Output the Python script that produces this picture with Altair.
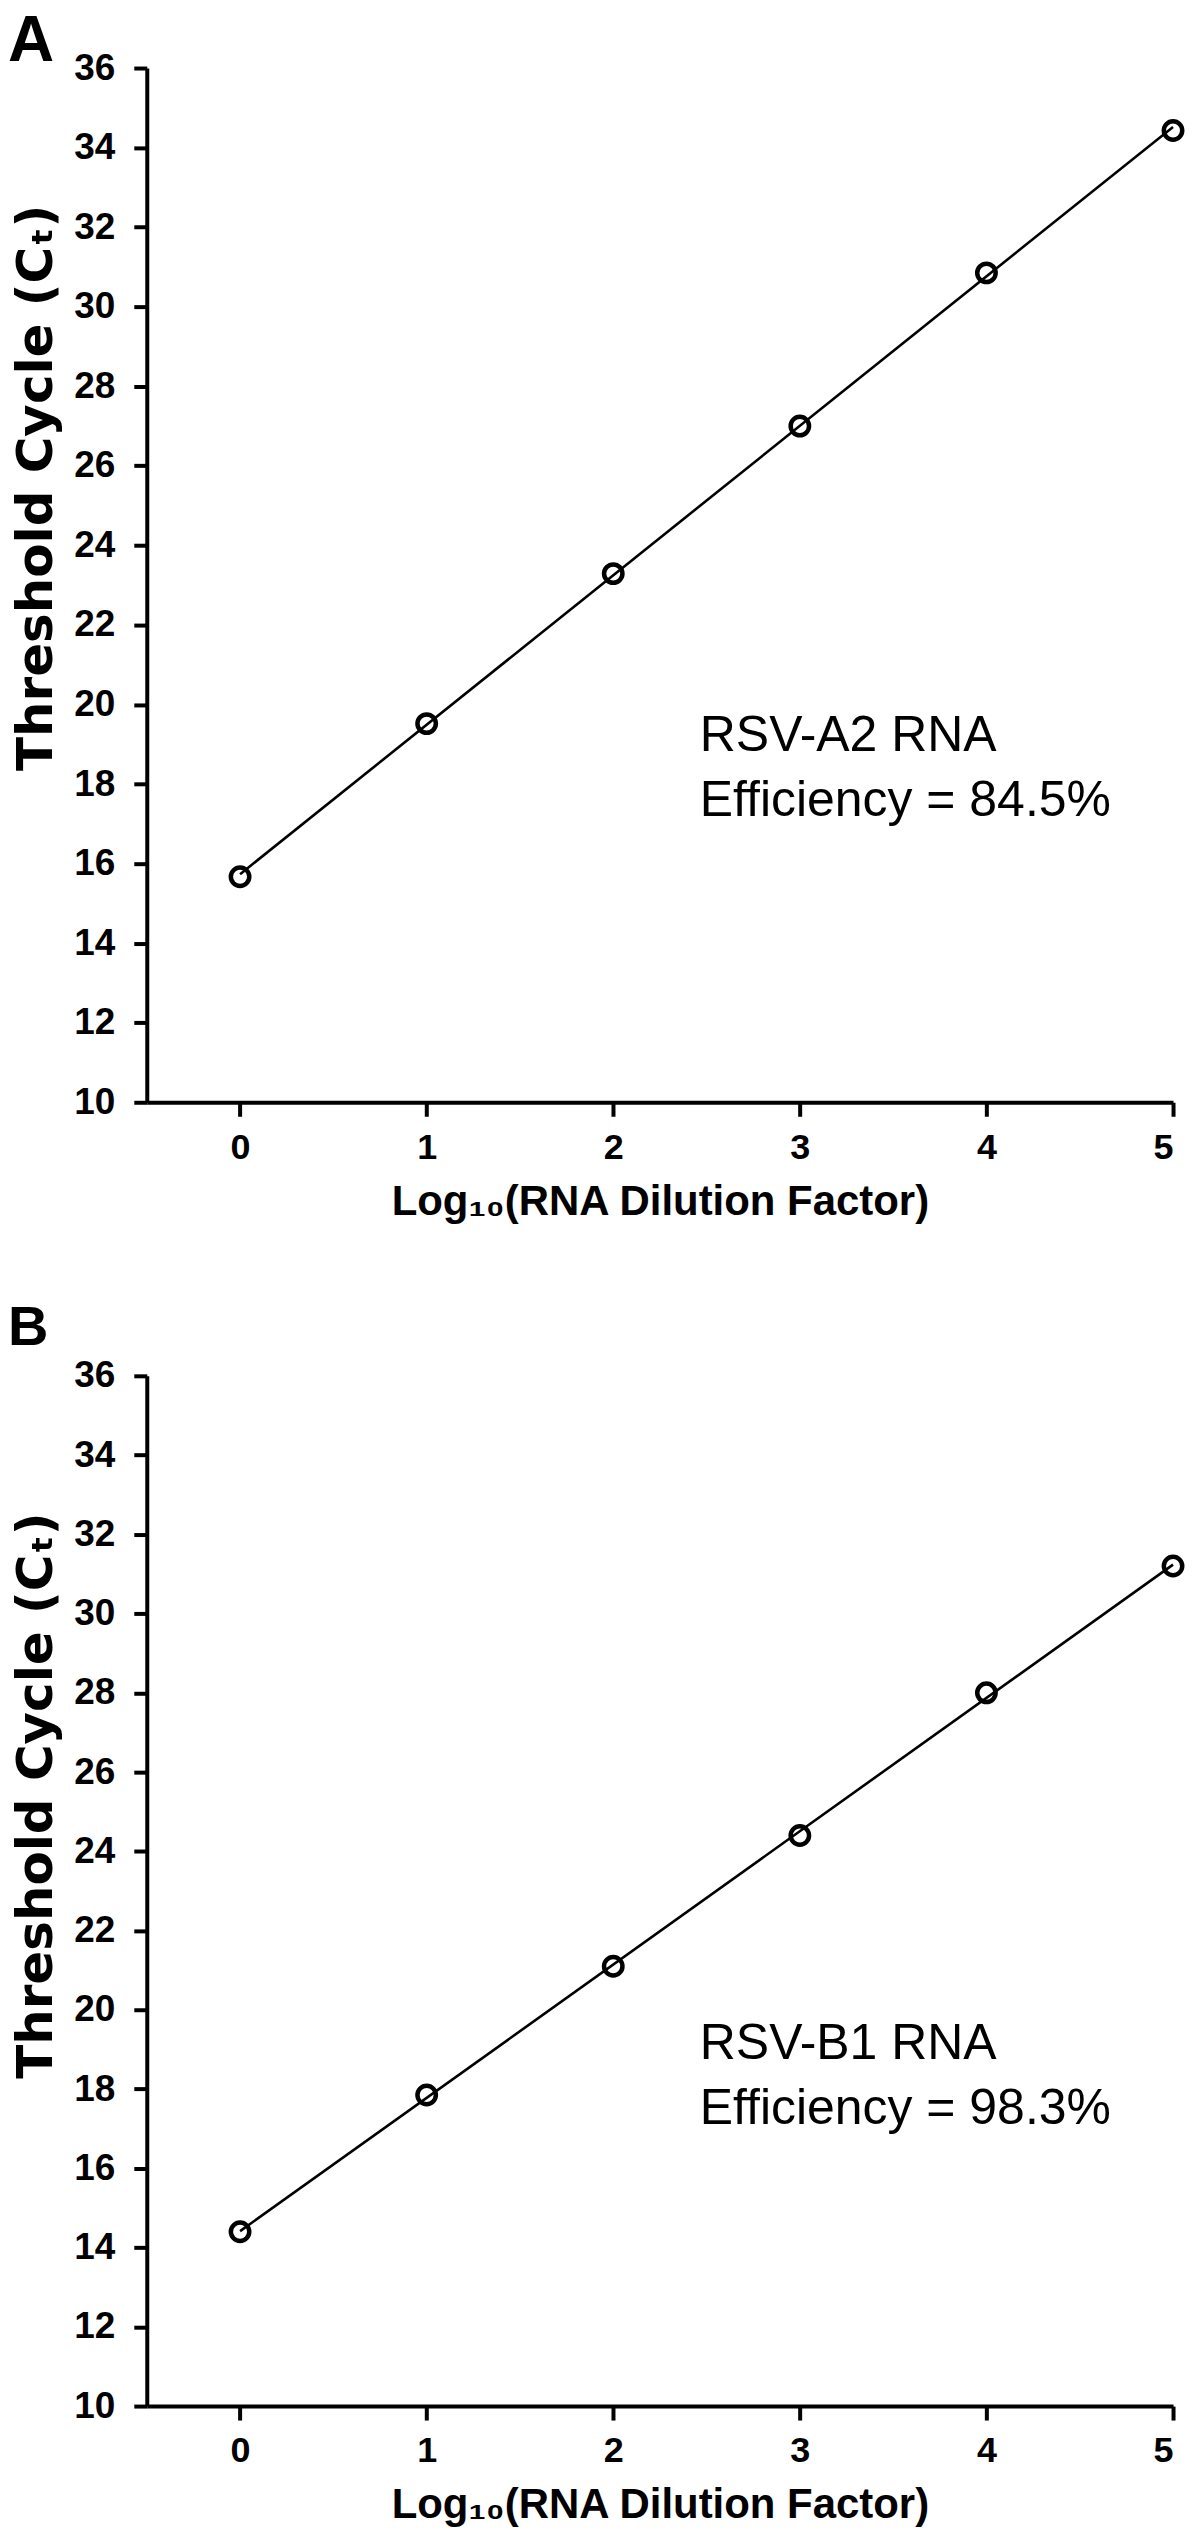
import altair as alt
import pandas as pd

# ---- data ----
dilution = [0, 1, 2, 3, 4, 5]
ct_a = [15.67, 19.52, 23.29, 27.0, 30.85, 34.43]
ct_b = [14.40, 17.85, 21.10, 24.40, 28.00, 31.20]
x_ticks = [0, 1, 2, 3, 4, 5]
y_ticks = list(range(10, 37, 2))
panel_letters = ["A", "B"]
virus_names = ["RSV-A2 RNA", "RSV-B1 RNA"]
efficiencies = ["84.5%", "98.3%"]

FONT = "Liberation Sans"
PLOT_W = 1028


def panel(ct, letter, virus, eff, height, letter_size, letter_y):
    df = pd.DataFrame({"x": dilution, "ct": ct})
    base = alt.Chart(df)
    xenc = alt.X(
        "x:Q",
        scale=alt.Scale(domain=[-0.5, 5], nice=False, zero=False),
        axis=alt.Axis(
            values=x_ticks,
            format="d",
            title="Log₁₀(RNA Dilution Factor)",
            titleFontSize=42,
            titlePadding=16,
            labelFontSize=36,
            labelPadding=14,
            tickSize=14,
        ),
    )
    yenc = alt.Y(
        "ct:Q",
        scale=alt.Scale(domain=[10, 36], nice=False, zero=False),
        axis=alt.Axis(
            values=y_ticks,
            format="d",
            title="Threshold  Cycle (Cₜ)",
            titleFont="DejaVu Sans",
            titleFontSize=50,
            titlePadding=12,
            titleY=420,
            labelFontSize=37,
            labelPadding=19,
            tickSize=13,
        ),
    )
    line = (
        base.transform_regression("x", "ct", extent=[0, 5])
        .mark_line(color="black", strokeWidth=2.6)
        .encode(x=xenc, y=yenc)
    )
    pts = base.mark_point(
        shape="circle", filled=False, color="black", size=340, strokeWidth=4.5, opacity=1
    ).encode(x=xenc, y=yenc)
    lab = alt.Chart(pd.DataFrame({"t": [letter]})).mark_text(
        font=FONT, fontSize=letter_size, fontWeight="bold", align="left",
        baseline="top", color="black",
    ).encode(x=alt.value(-139), y=alt.value(letter_y), text="t:N")
    ann = alt.Chart(pd.DataFrame({"t": [virus + "\nEfficiency = " + eff]})).mark_text(
        font=FONT, fontSize=50, align="left", baseline="alphabetic",
        lineBreak="\n", lineHeight=65, color="black",
    ).encode(x=alt.value(554), y=alt.value(684), text="t:N")
    return alt.layer(line, pts, lab, ann).properties(width=PLOT_W, height=height)


pa = panel(ct_a, panel_letters[0], virus_names[0], efficiencies[0], 1036, 64, -58)
pb = panel(ct_b, panel_letters[1], virus_names[1], efficiencies[1], 1032, 56, -75)

chart = (
    alt.vconcat(pa, pb, spacing=78)
    .properties(padding=0)
    .configure_view(stroke=None)
    .configure_axis(
        grid=False,
        domainColor="black",
        domainWidth=4,
        tickColor="black",
        tickWidth=4,
        labelColor="black",
        titleColor="black",
        labelFont=FONT,
        titleFont=FONT,
        labelFontWeight="bold",
        titleFontWeight="bold",
    )
)

chart.save("out.html", embed_options={"renderer": "svg", "actions": False})
